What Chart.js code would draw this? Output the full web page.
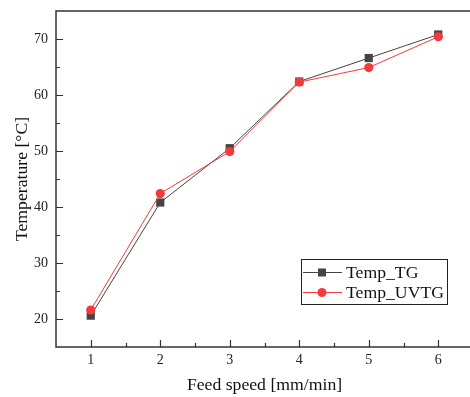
<!DOCTYPE html>
<html>
<head>
<meta charset="utf-8">
<script src="https://cdn.jsdelivr.net/npm/chart.js@4/dist/chart.umd.min.js"></script>
<style>
html,body{margin:0;padding:0;background:#fff;overflow:hidden;width:470px;height:397px;}
#wrap{position:absolute;left:0;top:0;width:480px;height:397px;}
</style>
</head>
<body>
<div id="wrap"><canvas id="c" width="480" height="397"></canvas></div>
<script>
const feedSpeed = [1, 2, 3, 4, 5, 6];
const tempTG = [20.6, 40.8, 50.5, 62.4, 66.6, 70.8];
const tempUVTG = [21.6, 42.4, 49.9, 62.3, 64.9, 70.4];
const xTicks = [1, 2, 3, 4, 5, 6];
const xMinorTicks = [1.5, 2.5, 3.5, 4.5, 5.5];
const yTicks = [20, 30, 40, 50, 60, 70];
const yMinorTicks = [25, 35, 45, 55, 65];
const seriesNames = ['Temp_TG', 'Temp_UVTG'];

const FONT = "'Liberation Serif', 'Times New Roman', serif";
const AXIS = '#333333';

const framePlugin = {
  id: 'frame',
  afterDraw(chart) {
    const {ctx, chartArea: a, scales: {x, y}} = chart;
    ctx.save();
    ctx.strokeStyle = AXIS;
    ctx.lineWidth = 1.5;
    ctx.beginPath();
    ctx.moveTo(a.right + 5, a.top); ctx.lineTo(a.left, a.top);
    ctx.lineTo(a.left, a.bottom); ctx.lineTo(a.right + 5, a.bottom);
    ctx.stroke();
    ctx.lineWidth = 1.2;
    ctx.beginPath();
    yTicks.forEach(v => { const p = Math.round(y.getPixelForValue(v)) + 0.5; ctx.moveTo(a.left, p); ctx.lineTo(a.left + 7, p); });
    yMinorTicks.forEach(v => { const p = Math.round(y.getPixelForValue(v)) + 0.5; ctx.moveTo(a.left, p); ctx.lineTo(a.left + 4, p); });
    xTicks.forEach(v => { const p = Math.round(x.getPixelForValue(v)) + 0.5; ctx.moveTo(p, a.bottom); ctx.lineTo(p, a.bottom - 7); });
    xMinorTicks.forEach(v => { const p = Math.round(x.getPixelForValue(v)) + 0.5; ctx.moveTo(p, a.bottom); ctx.lineTo(p, a.bottom - 4); });
    ctx.stroke();

    // legend
    const lx = 301, ly = 259, lw = 146, lh = 45;
    ctx.fillStyle = '#fff';
    ctx.fillRect(lx, ly, lw, lh);
    ctx.strokeStyle = '#222';
    ctx.lineWidth = 1;
    ctx.strokeRect(lx + 0.5, ly + 0.5, lw, lh);
    const rows = [272.5, 292.5];
    chart.data.datasets.forEach((ds, i) => {
      const yy = rows[i];
      ctx.strokeStyle = ds.borderColor;
      ctx.lineWidth = 1;
      ctx.beginPath();
      ctx.moveTo(303, yy); ctx.lineTo(342, yy);
      ctx.stroke();
      ctx.fillStyle = ds.backgroundColor;
      if (ds.pointStyle === 'rect') {
        ctx.fillRect(318, yy - 4, 8, 8);
      } else {
        ctx.beginPath(); ctx.arc(322, yy, 4.5, 0, Math.PI * 2); ctx.fill();
      }
      ctx.fillStyle = '#111';
      ctx.font = '17.7px ' + FONT;
      ctx.textBaseline = 'middle';
      ctx.textAlign = 'left';
      ctx.fillText(ds.label, 346, yy + 1);
    });
    ctx.restore();
  }
};

new Chart(document.getElementById('c'), {
  type: 'line',
  data: {
    datasets: [
      {
        label: seriesNames[0],
        data: feedSpeed.map((v, i) => ({x: v, y: tempTG[i]})),
        borderColor: '#444444',
        backgroundColor: '#444444',
        borderWidth: 1,
        pointStyle: 'rect',
        pointRadius: 5.8,
        pointBorderWidth: 0,
        order: 1
      },
      {
        label: seriesNames[1],
        data: feedSpeed.map((v, i) => ({x: v, y: tempUVTG[i]})),
        borderColor: '#f23b3b',
        backgroundColor: '#f23b3b',
        borderWidth: 1,
        pointStyle: 'circle',
        pointRadius: 4.6,
        pointBorderWidth: 0,
        order: 0
      }
    ]
  },
  options: {
    responsive: false,
    animation: false,
    devicePixelRatio: 1,
    layout: {padding: {top: 11, right: 7, bottom: 0, left: 0}},
    plugins: {legend: {display: false}, tooltip: {enabled: false}},
    scales: {
      x: {
        type: 'linear',
        min: 0.5, max: 6.5,
        grid: {display: false, drawTicks: false},
        border: {display: false},
        afterBuildTicks: s => { s.ticks = xTicks.map(v => ({value: v})); },
        afterFit: s => { s.height = 50; s.paddingLeft = 0; s.paddingRight = 0; },
        ticks: {color: '#222', font: {family: FONT, size: 14}, padding: 5, maxRotation: 0, autoSkip: false},
        title: {display: true, text: 'Feed speed [mm/min]', color: '#111', font: {family: FONT, size: 17.7, lineHeight: 1.2}, padding: {top: 0, bottom: 1}}
      },
      y: {
        type: 'linear',
        min: 15, max: 75,
        grid: {display: false, drawTicks: false},
        border: {display: false},
        afterBuildTicks: s => { s.ticks = yTicks.map(v => ({value: v})); },
        afterFit: s => { s.width = 56; s.paddingTop = 0; s.paddingBottom = 0; },
        ticks: {color: '#222', font: {family: FONT, size: 14}, padding: 8, autoSkip: false},
        title: {display: true, text: 'Temperature [°C]', color: '#111', font: {family: FONT, size: 17.7, lineHeight: 1.2}, padding: {top: 12, bottom: 0}}
      }
    }
  },
  plugins: [framePlugin]
});
</script>
</body>
</html>
